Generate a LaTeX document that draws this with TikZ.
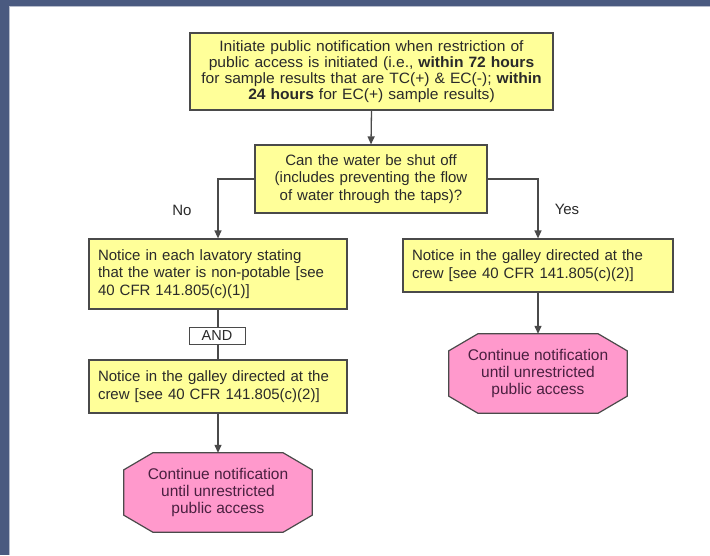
\documentclass[tikz,border=0pt]{standalone}
\usepackage{fontspec}
\setmainfont{Liberation Sans}
\newfontfamily\widesans[FakeStretch=1.04]{Liberation Sans}
\usetikzlibrary{arrows.meta,calc}
\pgfdeclarelayer{background}
\pgfdeclarelayer{backdrop}
\pgfsetlayers{backdrop,background,main}
\definecolor{band}{HTML}{4A5A80}
\definecolor{boxyellow}{HTML}{FFFF99}
\definecolor{boxpink}{HTML}{FF99CC}
\definecolor{edge}{HTML}{4A4A4A}
\definecolor{txt}{HTML}{2A2A2A}
\definecolor{pinktxt}{HTML}{4A2040}
\tikzset{
  ybox/.style={draw=edge, line width=1.2pt, fill=boxyellow, text=txt, inner sep=0pt, font=\fontsize{15}{17.5}\selectfont},
  andbox/.style={draw=edge, line width=0.9pt, fill=white, text=txt, inner sep=0pt, font=\fontsize{14.5}{16}\selectfont, minimum width=56pt, minimum height=17pt},
  octtext/.style={inner sep=0pt, text=pinktxt, align=center, font=\fontsize{15.5}{16.7}\selectfont},
  octfill/.style={draw=edge, line width=1.2pt, fill=boxpink},
  conn/.style={draw=edge, line width=1.3pt},
  arr/.style={conn, -{Triangle[length=8pt,width=7pt]}},
  lbl/.style={text=txt, font=\fontsize{15}{17}\selectfont}
}
\begin{document}
\begin{tikzpicture}[x=1pt,y=-1pt]
\useasboundingbox (0,0) rectangle (710,555);
\begin{pgfonlayer}{backdrop}
\fill[white] (0,0) rectangle (710,555);
\fill[band] (0,0) rectangle (710,6);
\fill[band] (0,0) rectangle (9,555);
\draw[band!40, line width=0.8pt] (9.4,6.4) -- (710,6.4);
\draw[band!40, line width=0.8pt] (9.4,6.4) -- (9.4,555);
\end{pgfonlayer}

% top box
\node[ybox, minimum width=363pt, minimum height=77pt, text width=357pt, align=center, font=\widesans\fontsize{15}{16}\selectfont] (top) at (371.5,71.5)
 {Initiate public notification when restriction of\\
  public access is initiated (i.e., \textbf{within 72 hours}\\
  for sample results that are TC(+) \& EC(-); \textbf{within}\\
  \textbf{24 hours} for EC(+) sample results)};

% decision
\node[ybox, minimum width=232pt, minimum height=68pt, text width=226pt, align=center] (dec) at (371,179)
 {Can the water be shut off\\
  (includes preventing the flow\\
  of water through the taps)?};

% left column
\node[ybox, minimum width=258pt, minimum height=70pt, text width=240pt, align=left] (l1) at (218,274)
 {Notice in each lavatory stating\\
  that the water is non-potable [see\\
  40 CFR 141.805(c)(1)]};
\node[andbox] (and) at (217,335.5) {AND};
\node[ybox, minimum width=258pt, minimum height=53pt, text width=240pt, align=left] (l2) at (218,386.5)
 {Notice in the galley directed at the\\
  crew [see 40 CFR 141.805(c)(2)]};
\node[octtext, minimum width=188pt, minimum height=79pt] (o1) at (218,492.5)
 {Continue notification\\ until unrestricted\\ public access};

% right column
\node[ybox, minimum width=270pt, minimum height=53pt, text width=252pt, align=left] (r1) at (538,265.5)
 {Notice in the galley directed at the\\
  crew [see 40 CFR 141.805(c)(2)]};
\node[octtext, minimum width=178pt, minimum height=79pt] (o2) at (538,373.5)
 {Continue notification\\ until unrestricted\\ public access};

% octagons behind their texts
\begin{pgfonlayer}{background}
\foreach \o in {o1,o2} {
  \path[octfill]
    ($(\o.north west)+(29,0)$) -- ($(\o.north east)+(-29,0)$) --
    ($(\o.north east)+(0,17)$) -- ($(\o.south east)+(0,-17)$) --
    ($(\o.south east)+(-29,0)$) -- ($(\o.south west)+(29,0)$) --
    ($(\o.south west)+(0,-17)$) -- ($(\o.north west)+(0,17)$) -- cycle;
}
\end{pgfonlayer}

% connectors
\draw[arr] (top.south) -- (dec.north);
\draw[arr] (dec.west) -| (l1.north);
\draw[arr] (dec.east) -| (r1.north);
\draw[conn] (l1.south) -- (and.north -| l1.south);
\draw[conn] (and.south -| l2.north) -- (l2.north);
\draw[arr] (l2.south) -- (o1.north);
\draw[arr] (r1.south) -- (o2.north);

\node[lbl] (no) at (182,210) {No};
\node[lbl] (yes) at (567,209) {Yes};
\end{tikzpicture}
\end{document}
